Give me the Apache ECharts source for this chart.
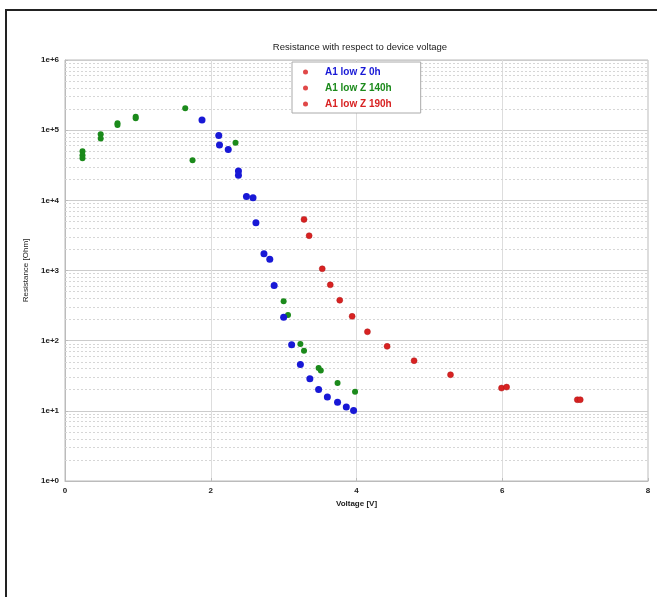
<!DOCTYPE html>
<html><head><meta charset="utf-8">
<script src="https://cdn.jsdelivr.net/npm/echarts@6/dist/echarts.min.js"></script>
<style>
html,body{margin:0;padding:0;background:#fff;overflow:hidden;}
#frame{position:absolute;left:5px;top:9px;width:2000px;height:2000px;border:2px solid #222;}
#main{position:absolute;left:0;top:0;width:657px;height:597px;}
</style></head>
<body>
<div id="frame"></div>
<div id="main"></div>
<script>
const titleText = 'Resistance with respect to device voltage';
const xName = 'Voltage [V]';
const yName = 'Resistance [Ohm]';
const seriesNames = ['A1 low Z 0h', 'A1 low Z 140h', 'A1 low Z 190h'];
const seriesColors = ['#1818d6', '#1b8a1b', '#d82222'];

const volt0h = [1.88,2.11,2.12,2.24,2.38,2.38,2.49,2.58,2.62,2.73,2.81,2.87,3.00,3.11,3.23,3.36,3.48,3.60,3.74,3.86,3.96];
const res0h  = [140000,84000,61700,53000,26200,22800,11300,10900,4800,1730,1450,611,215,87.6,45.9,28.7,20.2,15.8,13.3,11.3,10.1];

const volt140h = [0.24,0.24,0.24,0.49,0.49,0.72,0.72,0.97,0.97,1.65,1.75,2.34,3.00,3.06,3.23,3.28,3.48,3.51,3.74,3.98];
const res140h  = [50000,44000,39800,87700,76000,125000,118000,155000,148000,206000,37300,65900,364,233,89.7,72,40.7,37.7,25,18.7];

const volt190h = [3.28,3.35,3.53,3.64,3.77,3.94,4.15,4.42,4.79,5.29,5.99,6.06,7.03,7.07];
const res190h  = [5350,3130,1057,625,377,222,134,83,51.8,32.7,21.1,21.8,14.4,14.4];

const xTicks = [0,2,4,6,8];
const yDecades = [0,1,2,3,4,5,6];

// minor log gridlines (2..9 within each decade) — axis decoration
const minorLines = [];
for (let d = 0; d < 6; d++) for (let m = 2; m <= 9; m++) minorLines.push({yAxis: m * Math.pow(10, d)});

function pairs(xs, ys){ return xs.map((x,i)=>[x, ys[i]]); }

const chart = echarts.init(document.getElementById('main'));
const font = 'Liberation Sans, Arial, sans-serif';
const labelStyle = {color:'#222', fontSize:8, fontWeight:'bold', fontFamily:font};
chart.setOption({
  animation:false,
  backgroundColor:'transparent',
  title:{text:titleText, left:355, textAlign:'center', top:37,
    textStyle:{fontSize:9.5, fontWeight:'normal', color:'#222', fontFamily:font}},
  grid:{left:65, right:9, top:60, bottom:116, show:true, borderColor:'#bbb', borderWidth:1},
  legend:{
    orient:'vertical', left:292, top:62,
    padding:[4,29,3,11], itemGap:4, itemWidth:5, itemHeight:5,
    backgroundColor:'#fff', borderColor:'#aaa', borderWidth:1,
    icon:'circle',
    data: seriesNames.map((n,i)=>({name:n, itemStyle:{color:'#e04848', borderWidth:0}, textStyle:{color:seriesColors[i]}})),
    textStyle:{fontSize:10, fontWeight:'bold', fontFamily:font, lineHeight:12, padding:[0,0,0,12]}
  },
  xAxis:{type:'value', min:xTicks[0], max:xTicks[xTicks.length-1], interval:2,
    name:xName, nameLocation:'middle', nameGap:17,
    nameTextStyle:labelStyle,
    axisLine:{show:true, lineStyle:{color:'#bbb'}},
    axisTick:{show:true, length:3, inside:true, lineStyle:{color:'#bbb'}},
    axisLabel:Object.assign({margin:6}, labelStyle),
    splitLine:{show:true, lineStyle:{color:'#ddd', width:1}}
  },
  yAxis:{type:'log', logBase:10, min:Math.pow(10,yDecades[0]), max:Math.pow(10,yDecades[yDecades.length-1]),
    name:yName, nameLocation:'middle', nameGap:31, nameRotate:90,
    nameTextStyle:Object.assign({}, labelStyle, {fontWeight:'normal'}),
    axisLine:{show:true, lineStyle:{color:'#bbb'}},
    axisTick:{show:true, length:3, inside:true, lineStyle:{color:'#bbb'}},
    axisLabel:Object.assign({margin:6, formatter:v=>'1e+'+Math.round(Math.log10(v))}, labelStyle),
    splitLine:{show:true, lineStyle:{color:'#ccc', width:1}}
  },
  series:[
    {name:'minorGrid', type:'scatter', data:[], z:1, silent:true,
      markLine:{silent:true, z:1, symbol:'none', label:{show:false}, animation:false,
        lineStyle:{color:'#d6d6d6', type:[2,2], width:1}, data:minorLines}},
    {name:seriesNames[0], type:'scatter', data:pairs(volt0h,res0h), symbolSize:7,
      itemStyle:{color:seriesColors[0], opacity:1}, z:4},
    {name:seriesNames[1], type:'scatter', data:pairs(volt140h,res140h), symbolSize:6,
      itemStyle:{color:seriesColors[1], opacity:1}, z:3},
    {name:seriesNames[2], type:'scatter', data:pairs(volt190h,res190h), symbolSize:6,
      itemStyle:{color:seriesColors[2], opacity:1, borderColor:'#b01818', borderWidth:0.5}, z:3}
  ]
});
</script>
</body></html>
